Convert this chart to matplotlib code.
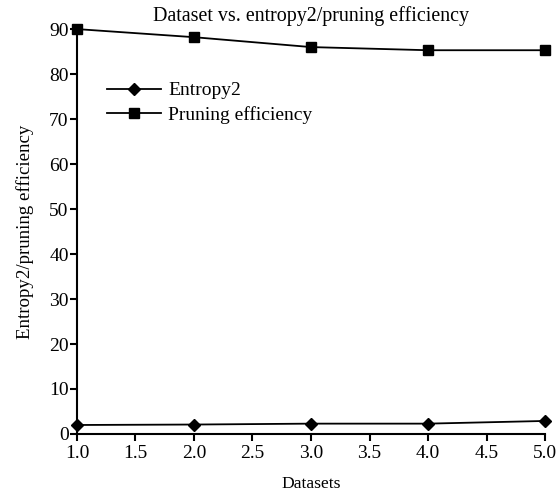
import matplotlib
matplotlib.use("Agg")
import matplotlib.pyplot as plt

datasets = [1.0, 2.0, 3.0, 4.0, 5.0]
entropy2 = [2.0, 2.1, 2.3, 2.3, 2.9]
pruning = [90.0, 88.2, 86.0, 85.3, 85.3]

plt.rcParams['font.family'] = ['Liberation Serif', 'DejaVu Serif']
plt.rcParams['font.size'] = 12

fig = plt.figure(figsize=(5.59, 4.93), dpi=100)
ax = fig.add_axes([0.1377, 0.1197, 0.8373, 0.8213])

ax.plot(datasets, entropy2, '-', color='black', marker='D', markersize=6, lw=1.3,
        label='Entropy2', clip_on=False, zorder=3)
ax.plot(datasets, pruning, '-', color='black', marker='s', markersize=7, lw=1.3,
        label='Pruning efficiency', clip_on=False, zorder=3)

ax.set_xlim(1.0, 5.0)
ax.set_ylim(0, 90)
xt = [1.0, 1.5, 2.0, 2.5, 3.0, 3.5, 4.0, 4.5, 5.0]
ax.set_xticks(xt)
ax.set_xticklabels(['%.1f' % v for v in xt])
ax.set_yticks(range(0, 91, 10))
ax.spines['top'].set_visible(False)
ax.spines['right'].set_visible(False)
ax.spines['left'].set_linewidth(1.5)
ax.spines['bottom'].set_linewidth(1.5)
ax.tick_params(direction='out', length=5, width=1.5, labelsize=14)
ax.tick_params(axis='y', pad=1)
ax.tick_params(axis='x', pad=3)

ax.set_xlabel("Datasets", fontsize=12.6, labelpad=10)
ax.set_ylabel("Entropy2/pruning efficiency", fontsize=13.6, labelpad=11)
ax.set_title("Dataset vs. entropy2/pruning efficiency", pad=6)

ax.legend(loc='upper left', bbox_to_anchor=(0.047, 0.889), frameon=False, fontsize=14,
          handlelength=2.8, handletextpad=0.35, labelspacing=0.35, borderaxespad=0)

fig.savefig("out.png", dpi=100)
